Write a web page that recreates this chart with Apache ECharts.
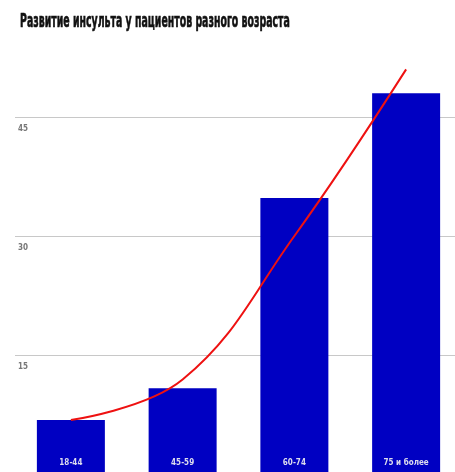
<!DOCTYPE html>
<html><head><meta charset="utf-8">
<script src="https://cdn.jsdelivr.net/npm/echarts@6/dist/echarts.min.js"></script>
<style>html,body{margin:0;padding:0;background:#fff}#c{width:455px;height:472px}</style>
</head><body><div id="c"></div>
<script>
const titleText = 'Развитие инсульта у пациентов разного возраста';
const categories = ['18-44', '45-59', '60-74', '75 и более'];
const barValues = [6.8, 10.8, 34.8, 48];
const trendValues = [6.8, 11.9, 30, 51];
const yTicks = { min: 0, max: 60, interval: 15 };
const FONT = '"DejaVu Sans Condensed", "Liberation Sans", sans-serif';

const chart = echarts.init(document.getElementById('c'), null, {renderer: 'canvas'});
chart.setOption({
  animation: false,
  backgroundColor: '#ffffff',
  graphic: [{
    type: 'text', x: 20, y: 22, scaleX: 0.55, z: 10,
    style: {text: titleText, x: 0, y: 0, verticalAlign: 'middle', align: 'left',
      font: 'bold 19px "DejaVu Sans Condensed", "Liberation Sans", sans-serif', fill: '#111',
      stroke: '#111', lineWidth: 0.6}
  }],
  grid: {left: 15, width: 447, top: -2, bottom: -2, outerBoundsMode: 'none', containLabel: false},
  xAxis: {
    type: 'category', data: categories,
    axisLine: {show: false}, axisTick: {show: false}, axisLabel: {show: false}
  },
  yAxis: {
    type: 'value', min: yTicks.min, max: yTicks.max, interval: yTicks.interval,
    axisLine: {show: false}, axisTick: {show: false},
    splitLine: {lineStyle: {color: '#c8c8c8', width: 1}},
    axisLabel: {inside: true, verticalAlign: 'top', margin: 3, showMinLabel: false, showMaxLabel: false,
      color: '#777', fontSize: 8, fontFamily: FONT, fontWeight: 'bold',
      padding: [8, 0, 0, 0]}
  },
  series: [
    {
      type: 'bar', data: barValues, barWidth: 68,
      itemStyle: {color: '#0000c2'},
      label: {show: true, position: 'insideBottom', distance: 7, formatter: '{b}',
        color: '#dde', fontSize: 8, fontWeight: 'bold', fontFamily: FONT}
    },
    {
      type: 'line', data: trendValues, smooth: 0.4, symbol: 'none',
      lineStyle: {color: '#ee1111', width: 2}, z: 5
    }
  ]
});
</script></body></html>
